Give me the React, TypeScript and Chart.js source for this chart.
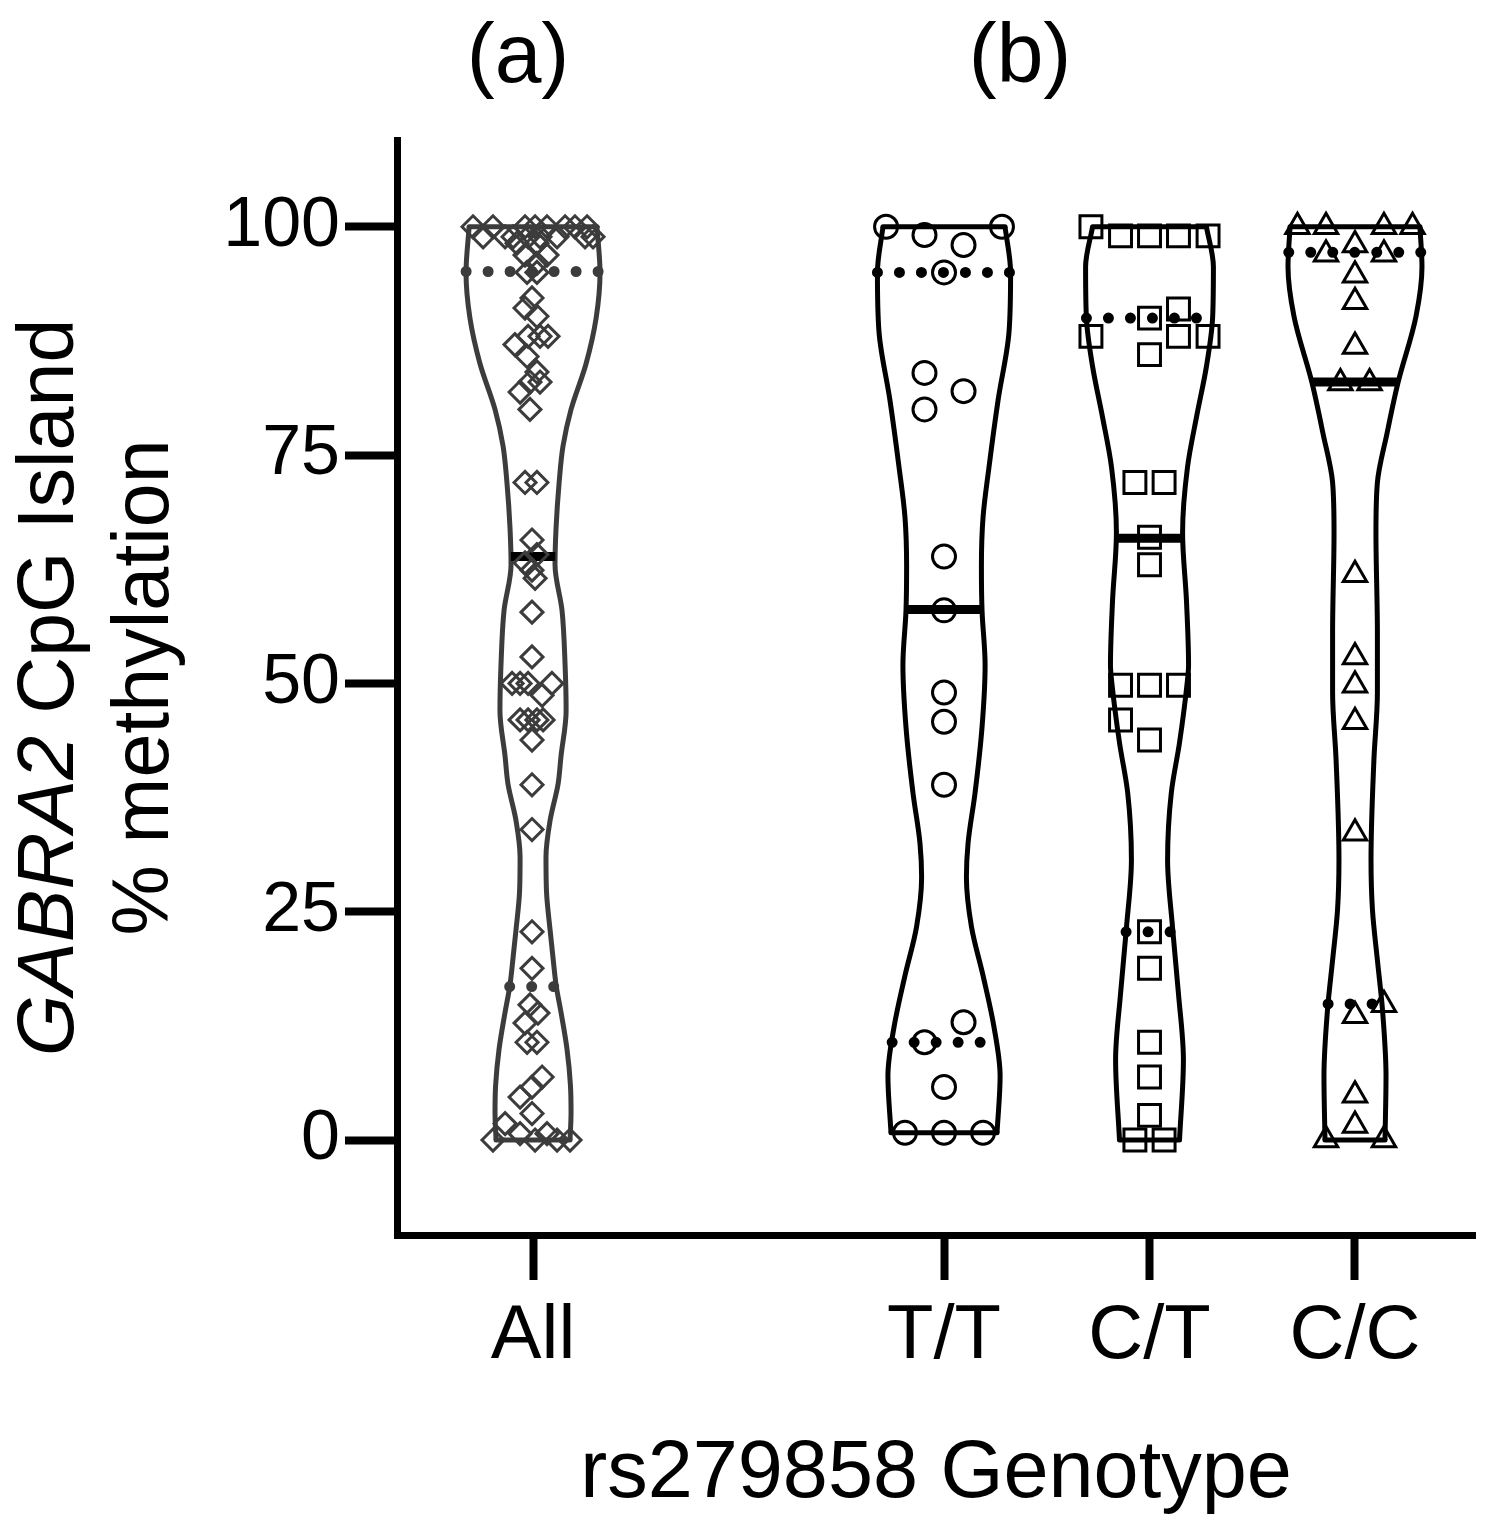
import React, { useEffect, useRef } from 'react';
import { Chart, registerables } from 'chart.js';

Chart.register(...registerables);

// ---------- data ----------
const categories = ['All', 'T/T', 'C/T', 'C/C'];
const categoryPositions = [0, 2, 3, 4];
const yTicks = [0, 25, 50, 75, 100];
const panelLabels = ['(a)', '(b)'];
const xTitle = 'rs279858 Genotype';
const yTitleItalic = 'GABRA2';
const yTitleRest = ' CpG Island';
const yTitleLine2 = '% methylation';

// % methylation values per group and horizontal scatter offsets (x-axis units)
const allValues = [
  100, 100, 100, 100, 100, 100, 100, 100,
  98.9, 98.9, 98.9, 98.9, 98.9, 98.9, 98.9, 98.9,
  98.2, 98.2, 96.9, 96.9, 96, 95, 95, 92.2, 91.1, 90.2,
  88, 88, 88, 87.1, 85.8, 84.1, 83, 83, 81.9, 80,
  72, 72, 65.7, 64.1, 63.2, 62.4, 61.5, 57.8, 52.9,
  50, 50, 50, 50, 48.7, 46, 46, 46, 46, 43.8, 38.9, 34,
  22.8, 18.8, 14.8, 13.9, 12.8, 10.7, 10.7, 6.9, 5.8, 4.7, 2.9, 1.8,
  0.7, 0.7, 0, 0, 0, 0,
];
const allJitter = [
  -0.292, -0.195, -0.039, 0.01, 0.068, 0.156, 0.204, 0.263,
  -0.243, -0.136, -0.097, -0.024, 0.034, 0.117, 0.253, 0.292,
  -0.078, 0.019, -0.039, 0.068, 0.019, -0.029, 0.019, -0.005, -0.039, 0.019,
  -0.024, 0.034, 0.073, -0.088, -0.029, 0.019, -0.015, 0.034, -0.063, -0.015,
  -0.039, 0.019, -0.005, 0.019, -0.039, -0.005, 0.01, -0.005, -0.005,
  -0.102, -0.063, -0.024, 0.092, 0.044, -0.063, -0.024, 0.019, 0.049, -0.005, -0.005, -0.005,
  -0.005, -0.005, -0.015, 0.024, -0.039, -0.029, 0.019, 0.044, -0.005, -0.063, -0.005, -0.136,
  -0.063, 0.068, -0.195, 0.01, 0.117, 0.18,
];

const ttValues = [100, 100, 99.1, 98, 95, 84, 82, 80, 63.9, 58, 49, 45.8, 38.9, 12.9, 10.7, 5.8, 0.8, 0.8, 0.8];
const ttJitter = [-0.282, 0.282, -0.095, 0.095, 0, -0.095, 0.095, -0.095, 0, 0, 0, 0, 0, 0.095, -0.095, 0, -0.19, 0, 0.19];

const ctValues = [100, 99, 99, 99, 99, 91, 90, 88, 88, 88, 86, 72, 72, 66, 63, 49.8, 49.8, 49.8, 46, 43.8, 22.8, 18.8, 10.7, 6.9, 2.7, 0, 0];
const ctJitter = [-0.285, -0.141, 0, 0.141, 0.285, 0.141, 0, -0.285, 0.141, 0.285, 0, -0.071, 0.071, 0, 0, -0.141, 0, 0.141, -0.141, 0, 0, 0, 0, 0, 0, -0.071, 0.071];

const ccValues = [100, 100, 100, 100, 98, 97, 97, 94.7, 91.8, 86.9, 82.9, 82.9, 61.9, 52.9, 49.8, 45.8, 33.6, 14.8, 13.6, 4.9, 1.6, 0, 0];
const ccJitter = [-0.28, -0.141, 0.141, 0.28, 0, -0.141, 0.141, 0, 0, 0, -0.071, 0.071, 0, 0, 0, 0, 0, 0.141, 0, 0, 0, -0.141, 0.141];

// summary statistics
const medians = [63.9, 58.1, 65.9, 83.0];
const lowerQuartiles = [16.8, 10.7, 22.8, 14.9];
const upperQuartiles = [95.1, 95.0, 90.0, 97.2];

// violin density profiles: half-width (x-axis units) at each level
const allViolinLevels = [0, 3, 6, 10, 14, 17, 20, 23, 27, 31, 35, 39, 42, 47, 52, 58, 63, 67, 72, 76, 80, 85, 90, 95, 100];
const allViolinWidths = [0.18, 0.185, 0.182, 0.165, 0.136, 0.112, 0.097, 0.083, 0.066, 0.063, 0.083, 0.122, 0.136, 0.161, 0.156, 0.141, 0.107, 0.112, 0.127, 0.146, 0.185, 0.258, 0.307, 0.326, 0.311];

const ttViolinLevels = [0.8, 7, 12.4, 18, 23.3, 28.8, 32.5, 38, 45.2, 52, 58, 62.8, 68.2, 73.7, 81, 88.4, 95, 100];
const ttViolinWidths = [0.258, 0.273, 0.243, 0.19, 0.134, 0.109, 0.117, 0.151, 0.185, 0.2, 0.185, 0.182, 0.19, 0.219, 0.263, 0.316, 0.324, 0.297];

const ctViolinLevels = [0, 8.8, 16, 23.3, 30.7, 38, 43.5, 49.8, 52, 59, 66.5, 73.7, 79.2, 84.7, 90, 95.6, 100];
const ctViolinWidths = [0.146, 0.165, 0.141, 0.112, 0.088, 0.106, 0.146, 0.182, 0.19, 0.18, 0.161, 0.185, 0.229, 0.277, 0.307, 0.311, 0.277];

const ccViolinLevels = [0, 7, 14.2, 19.7, 25.2, 30.7, 41.6, 49, 55.5, 66.5, 72, 77.4, 82.9, 90.2, 95.6, 100];
const ccViolinWidths = [0.146, 0.151, 0.134, 0.109, 0.085, 0.078, 0.092, 0.109, 0.109, 0.102, 0.109, 0.156, 0.209, 0.297, 0.326, 0.316];

// ---------- styling ----------
const FONT = '"Liberation Sans", Arial, Helvetica, sans-serif';
const BLACK = '#000000';
const GRAY = '#3c3c3c';

const groups = [
  { values: allValues, jitter: allJitter, levels: allViolinLevels, widths: allViolinWidths, style: 'rectRot', radius: 11, color: GRAY },
  { values: ttValues, jitter: ttJitter, levels: ttViolinLevels, widths: ttViolinWidths, style: 'circle', radius: 11.5, color: BLACK },
  { values: ctValues, jitter: ctJitter, levels: ctViolinLevels, widths: ctViolinWidths, style: 'rect', radius: 15.5, color: BLACK },
  { values: ccValues, jitter: ccJitter, levels: ccViolinLevels, widths: ccViolinWidths, style: 'triangle', radius: 13.5, color: BLACK },
];

function widthAt(levels: number[], widths: number[], v: number): number {
  if (v <= levels[0]) return widths[0];
  for (let i = 1; i < levels.length; i++) {
    if (v <= levels[i]) {
      const t = (v - levels[i - 1]) / (levels[i] - levels[i - 1]);
      return widths[i - 1] + t * (widths[i] - widths[i - 1]);
    }
  }
  return widths[widths.length - 1];
}

function buildDatasets() {
  const ds: any[] = [];
  groups.forEach((g, i) => {
    const c = categoryPositions[i];
    const n = g.levels.length;
    const lineBase = {
      showLine: true,
      pointRadius: 0,
      pointHoverRadius: 0,
      fill: false,
      clip: false,
    };
    // violin sides
    ds.push({
      ...lineBase,
      data: g.levels.map((lv, k) => ({ x: c - g.widths[k], y: lv })),
      indexAxis: 'y',
      cubicInterpolationMode: 'monotone',
      borderColor: g.color,
      borderWidth: 5,
      order: 5,
    });
    ds.push({
      ...lineBase,
      data: g.levels.map((lv, k) => ({ x: c + g.widths[k], y: lv })),
      indexAxis: 'y',
      cubicInterpolationMode: 'monotone',
      borderColor: g.color,
      borderWidth: 5,
      order: 5,
    });
    // violin top / bottom edges
    ds.push({
      ...lineBase,
      data: [{ x: c - g.widths[n - 1], y: g.levels[n - 1] }, { x: c + g.widths[n - 1], y: g.levels[n - 1] }],
      borderColor: g.color,
      borderWidth: 5,
      borderCapStyle: 'round',
      tension: 0,
      order: 5,
    });
    ds.push({
      ...lineBase,
      data: [{ x: c - g.widths[0], y: g.levels[0] }, { x: c + g.widths[0], y: g.levels[0] }],
      borderColor: g.color,
      borderWidth: 5,
      borderCapStyle: 'round',
      tension: 0,
      order: 5,
    });
    // quartiles (dotted)
    [lowerQuartiles[i], upperQuartiles[i]].forEach((q) => {
      const w = widthAt(g.levels, g.widths, q);
      ds.push({
        ...lineBase,
        data: [{ x: c - w, y: q }, { x: c + w, y: q }],
        borderColor: g.color,
        borderWidth: 11,
        borderDash: [0, 22],
        borderCapStyle: 'round',
        tension: 0,
        order: 3,
      });
    });
    // median (solid)
    const wm = widthAt(g.levels, g.widths, medians[i]);
    ds.push({
      ...lineBase,
      data: [{ x: c - wm, y: medians[i] }, { x: c + wm, y: medians[i] }],
      borderColor: BLACK,
      borderWidth: 9,
      tension: 0,
      order: 2,
    });
    // points
    ds.push({
      data: g.values.map((v, k) => ({ x: c + g.jitter[k], y: v })),
      showLine: false,
      pointStyle: g.style,
      pointRadius: g.radius,
      pointHoverRadius: g.radius,
      pointBorderWidth: 3,
      pointBorderColor: g.color,
      pointBackgroundColor: 'rgba(0,0,0,0)',
      borderColor: g.color,
      clip: false,
      order: 1,
    });
  });
  return ds;
}

const textPlugin = {
  id: 'figureText',
  afterDraw(chart: any) {
    const { ctx, chartArea } = chart;
    ctx.save();
    ctx.fillStyle = BLACK;
    ctx.textBaseline = 'alphabetic';
    // panel labels
    ctx.font = `84px ${FONT}`;
    ctx.textAlign = 'center';
    ctx.fillText(panelLabels[0], 518, 82);
    ctx.fillText(panelLabels[1], 1020, 82);
    // x title
    ctx.font = `81px ${FONT}`;
    ctx.fillText(xTitle, (chartArea.left + chartArea.right) / 2, 1497);
    // y title
    const cy = (chartArea.top + chartArea.bottom) / 2;
    ctx.save();
    ctx.translate(73, cy);
    ctx.rotate(-Math.PI / 2);
    ctx.textAlign = 'left';
    ctx.font = `italic 79px ${FONT}`;
    const w1 = ctx.measureText(yTitleItalic).width;
    ctx.font = `79px ${FONT}`;
    const w2 = ctx.measureText(yTitleRest).width;
    const start = -(w1 + w2) / 2;
    ctx.font = `italic 79px ${FONT}`;
    ctx.fillText(yTitleItalic, start, 0);
    ctx.font = `79px ${FONT}`;
    ctx.fillText(yTitleRest, start + w1, 0);
    ctx.restore();
    ctx.save();
    ctx.translate(168, cy);
    ctx.rotate(-Math.PI / 2);
    ctx.textAlign = 'center';
    ctx.font = `79px ${FONT}`;
    ctx.fillText(yTitleLine2, 0, 0);
    ctx.restore();
    ctx.restore();
  },
};

export default function App() {
  const canvasRef = useRef<HTMLCanvasElement | null>(null);

  useEffect(() => {
    if (!canvasRef.current) return;
    const chart = new Chart(canvasRef.current, {
      type: 'line',
      data: { datasets: buildDatasets() },
      options: {
        animation: false,
        responsive: false,
        devicePixelRatio: 1,
        events: [],
        layout: { padding: { top: 140, right: 25, left: 0, bottom: 0 } },
        plugins: { legend: { display: false }, tooltip: { enabled: false } },
        scales: {
          x: {
            type: 'linear',
            min: -0.662,
            max: 4.584,
            afterBuildTicks: (scale: any) => {
              scale.ticks = categoryPositions.map((v) => ({ value: v }));
            },
            afterFit: (scale: any) => {
              scale.height = 290;
            },
            ticks: {
              callback: (value: any) => {
                const i = categoryPositions.indexOf(Number(value));
                return i >= 0 ? categories[i] : '';
              },
              font: { family: FONT, size: 76, lineHeight: 1.2 },
              color: BLACK,
              padding: 11,
              maxRotation: 0,
              autoSkip: false,
            },
            grid: {
              display: true,
              drawOnChartArea: false,
              drawTicks: true,
              tickLength: 45,
              tickWidth: 8,
              tickColor: BLACK,
            },
            border: { display: true, width: 7, color: BLACK },
          },
          y: {
            type: 'linear',
            min: -10.4,
            max: 109.5,
            afterBuildTicks: (scale: any) => {
              scale.ticks = yTicks.map((v) => ({ value: v }));
            },
            afterFit: (scale: any) => {
              scale.width = 397;
            },
            ticks: {
              callback: (value: any) => String(value),
              font: { family: FONT, size: 70, lineHeight: 1.2 },
              color: BLACK,
              padding: 5,
              autoSkip: false,
            },
            grid: {
              display: true,
              drawOnChartArea: false,
              drawTicks: true,
              tickLength: 52,
              tickWidth: 8,
              tickColor: BLACK,
            },
            border: { display: true, width: 7, color: BLACK },
          },
        },
      } as any,
      plugins: [textPlugin],
    });
    return () => chart.destroy();
  }, []);

  return (
    <div style={{ position: 'absolute', left: 0, top: 0, width: 1500, height: 1525, background: '#fff' }}>
      <canvas ref={canvasRef} width={1500} height={1525} style={{ display: 'block' }} />
    </div>
  );
}
